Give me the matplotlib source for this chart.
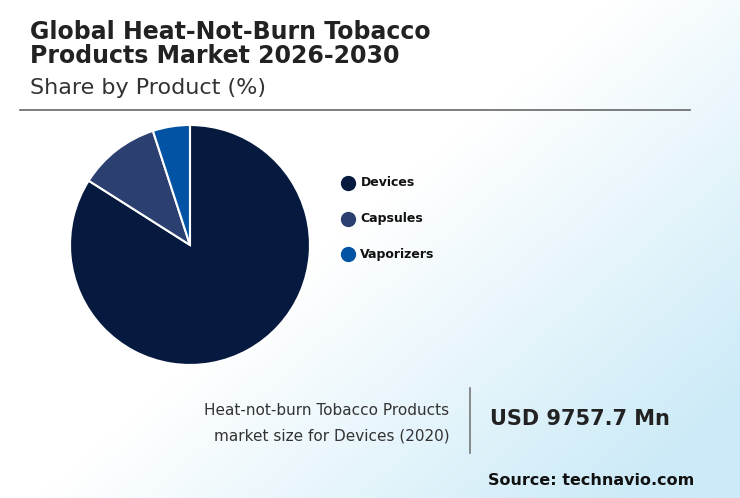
import numpy as np
import matplotlib
matplotlib.use("Agg")
import matplotlib.pyplot as plt
from matplotlib.lines import Line2D

plt.rcParams['font.family'] = ['DejaVu Sans']

categories = ["Devices", "Capsules", "Vaporizers"]
shares = [84, 11, 5]
colors = ["#061a40", "#2b3f70", "#0353a4"]

fig = plt.figure(figsize=(7.4, 4.98), dpi=100)
bg = fig.add_axes([0, 0, 1, 1], zorder=-10)
x = np.linspace(0, 1, 200); y = np.linspace(0, 1, 200)
X, Y = np.meshgrid(x, y)
t = np.clip((X * 0.9 + Y * 0.7 - 0.75) * 1.4, 0, 1)
c0 = np.array([1, 1, 1]); c1 = np.array([0.80, 0.92, 0.97])
img = c0[None, None, :] * (1 - t[..., None]) + c1[None, None, :] * t[..., None]
bg.imshow(img, extent=[0, 1, 0, 1], aspect="auto", origin="upper")
bg.axis("off")

fig.text(0.04, 0.912, "Global Heat-Not-Burn Tobacco\nProducts Market 2026-2030", fontsize=17,
         fontweight="bold", color="#222222", va="center", linespacing=1.0)
fig.text(0.04, 0.823, "Share by Product (%)", fontsize=16, color="#333333", va="center")
fig.add_artist(Line2D([0.027, 0.932], [0.78, 0.78], color="#666666", lw=1.2))

ax = fig.add_axes([0.0946, 0.2671, 0.3243, 0.4819])
ax.pie(shares, colors=colors, startangle=90, counterclock=False, radius=1.0,
       wedgeprops=dict(edgecolor="white", linewidth=1.5))
ax.set_xlim(-1, 1); ax.set_ylim(-1, 1)
ax.set_aspect("equal")

for i, (cat, col) in enumerate(zip(categories, colors)):
    yy = 0.633 - i * 0.072
    fig.add_artist(Line2D([0.47], [yy], marker="o", markersize=10, color=col, lw=0))
    fig.text(0.487, yy, cat, fontsize=9, fontweight="bold", va="center", color="#111111")

fig.text(0.607, 0.15, "Heat-not-burn Tobacco Products\nmarket size for Devices (2020)",
         fontsize=11, ha="right", va="center", color="#333333", linespacing=1.9)
fig.add_artist(Line2D([0.635, 0.635], [0.09, 0.22], color="#777777", lw=1.2))
fig.text(0.662, 0.158, "USD 9757.7 Mn", fontsize=15, fontweight="bold", va="center", color="#222222")
fig.text(0.938, 0.035, "Source: technavio.com", fontsize=11.5, fontweight="bold", ha="right",
         va="center", color="#111111")

fig.savefig("out.png", dpi=100)
